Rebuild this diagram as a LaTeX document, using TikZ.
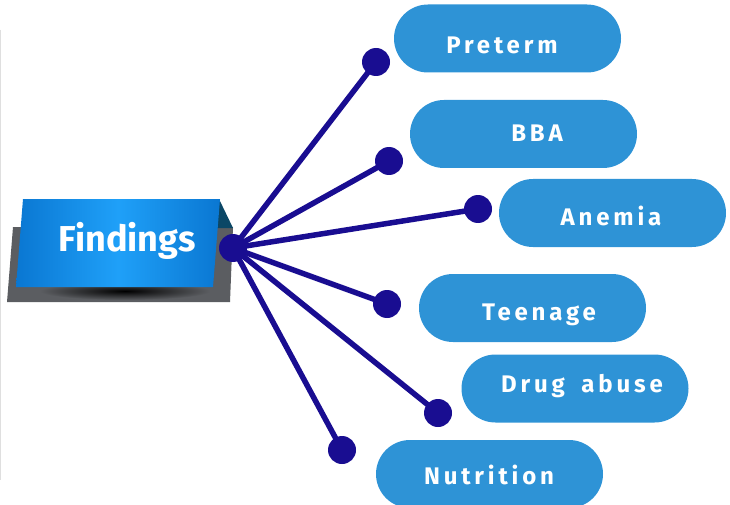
\documentclass[tikz,border=0pt]{standalone}
\usepackage{fontspec}
\setmainfont{Fira Sans}
\usetikzlibrary{shapes.misc}
\definecolor{pillblue}{HTML}{2E93D6}
\definecolor{navy}{HTML}{190D91}
\definecolor{backgray}{HTML}{5B5D61}
\definecolor{foldteal}{HTML}{0B4766}
\definecolor{boxdark}{HTML}{0A77D2}
\definecolor{boxlight}{HTML}{1FA0F8}
\tikzset{
  pill/.style={draw=none, fill=pillblue, rectangle, rounded corners=34pt,
    minimum width=227pt, minimum height=68pt, inner sep=0pt},
  lbl/.style={text=white, font=\fontsize{24}{26}\selectfont\bfseries\addfontfeature{LetterSpace=16}, inner sep=0pt, anchor=base},
  dotnode/.style={circle, fill=navy, minimum size=28pt, inner sep=0pt},
  spoke/.style={draw=navy, line width=5.5pt}
}
\begin{document}
\begin{tikzpicture}[x=1pt,y=-1pt]
\useasboundingbox (0,0) rectangle (730,505);
% faint left edge
\draw[gray!25, line width=1pt] (0.5,30) -- (0.5,480);
% pills
\node[pill] (p1) at (507.5,38.5) {};
\node[pill] (p2) at (523.5,134) {};
\node[pill] (p3) at (612.5,213) {};
\node[pill] (p4) at (532.5,308) {};
\node[pill] (p5) at (575,388.5) {};
\node[pill] (p6) at (489.5,474) {};
% labels
\node[lbl] (t1) at (502,54) {Preterm};
\node[lbl] (t2) at (537,142) {BBA};
\node[lbl] (t3) at (611,225) {Anemia};
\node[lbl] (t4) at (539,320) {Teenage};
\node[lbl] (t5) at (582,392) {Drug\hspace{7pt} abuse};
\node[lbl] (t6) at (489,484) {Nutrition};
% findings box
\fill[backgray] (13,227) -- (233,227) -- (230,302) -- (7,302) -- cycle;
\shade[inner color=black, outer color=backgray] (125,291) ellipse (85 and 9);
\fill[foldteal] (219,199) -- (233,228) -- (214,228) -- cycle;
\shade[left color=boxdark, right color=boxdark, middle color=boxlight]
  (23,199) -- (220,199) -- (213,287) -- (16,287) -- cycle;
\node[text=white, font=\fontsize{36}{38}\selectfont\bfseries, inner sep=0pt, anchor=base] (fnd) at (127,251) {Findings};
% spokes
\node[dotnode] (hub) at (233,248) {};
\node[dotnode] (d1) at (376,62) {};
\node[dotnode] (d2) at (389,161) {};
\node[dotnode] (d3) at (478,209) {};
\node[dotnode] (d4) at (387,304) {};
\node[dotnode] (d5) at (438,413) {};
\node[dotnode] (d6) at (342,450) {};
\foreach \d in {d1,d2,d3,d4,d5,d6}
  \draw[spoke] (hub.center) -- (\d.center);
\end{tikzpicture}
\end{document}
